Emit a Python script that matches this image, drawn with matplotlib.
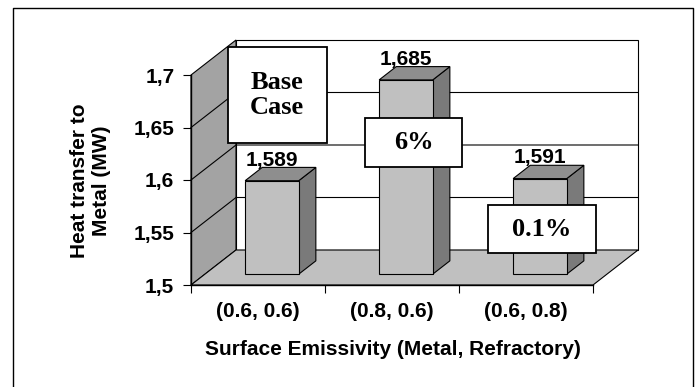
import matplotlib.pyplot as plt
from matplotlib.patches import Polygon, Rectangle
from matplotlib.lines import Line2D

# Heat transfer to metal for each emissivity pair
categories = ["(0.6, 0.6)", "(0.8, 0.6)", "(0.6, 0.8)"]
heat_mw = [1.589, 1.685, 1.591]
y_ticks = [1.5, 1.55, 1.6, 1.65, 1.7]
y_tick_labels = ["1,5", "1,55", "1,6", "1,65", "1,7"]

SANS = "Liberation Sans"
SERIF = "Liberation Serif"
FS = 15

# pseudo-3D depth of the plot box, in data units
DX = 45 / 134
DY = 0.2 * 35 / 210
# bars sit in the middle of the depth
F0, F1 = 0.31, 0.69
BAR_W = 0.40
YMIN, YMAX = 1.5, 1.7

fig = plt.figure(figsize=(6.99, 3.87), dpi=100)
ax = fig.add_axes([191 / 699, 1 - 285 / 387, 402 / 699, 210 / 387])
ax.set_xlim(-0.5, len(categories) - 0.5)
ax.set_ylim(YMIN, YMAX)
ax.patch.set_visible(False)
xl, xr = -0.5, len(categories) - 0.5

# outer chart frame (open at the bottom edge)
fig.add_artist(Line2D([13 / 699, 13 / 699, 693 / 699, 693 / 699],
                      [0, 1 - 8 / 387, 1 - 8 / 387, 0],
                      transform=fig.transFigure, color="black", lw=1.0))

lw = 0.8
# back wall
ax.add_patch(Polygon([(xl + DX, YMIN + DY), (xr + DX, YMIN + DY),
                      (xr + DX, YMAX + DY), (xl + DX, YMAX + DY)],
                     closed=True, facecolor="white", edgecolor="black",
                     lw=lw, clip_on=False, zorder=1))
# left side wall
ax.add_patch(Polygon([(xl, YMIN), (xl + DX, YMIN + DY),
                      (xl + DX, YMAX + DY), (xl, YMAX)],
                     closed=True, facecolor="#a3a3a3", edgecolor="black",
                     lw=lw, clip_on=False, zorder=1))
# floor
ax.add_patch(Polygon([(xl, YMIN), (xr, YMIN), (xr + DX, YMIN + DY),
                      (xl + DX, YMIN + DY)],
                     closed=True, facecolor="#c0c0c0", edgecolor="black",
                     lw=lw, clip_on=False, zorder=1))

# gridlines along the back wall and the side wall
for v in y_ticks[1:-1]:
    ax.plot([xl, xl + DX, xr + DX], [v, v + DY, v + DY],
            color="black", lw=lw, clip_on=False, zorder=2)

# bars
for i, v in enumerate(heat_mw):
    x0 = i - BAR_W / 2 + F0 * DX
    x1 = i + BAR_W / 2 + F0 * DX
    yb = YMIN + F0 * DY
    yt = v + F0 * DY
    ddx = (F1 - F0) * DX
    ddy = (F1 - F0) * DY
    ax.add_patch(Polygon([(x1, yb), (x1 + ddx, yb + ddy), (x1 + ddx, yt + ddy), (x1, yt)],
                         closed=True, facecolor="#7a7a7a", edgecolor="black",
                         lw=lw, clip_on=False, zorder=3))
    ax.add_patch(Polygon([(x0, yt), (x0 + ddx, yt + ddy), (x1 + ddx, yt + ddy), (x1, yt)],
                         closed=True, facecolor="#8e8e8e", edgecolor="black",
                         lw=lw, clip_on=False, zorder=3))
    ax.add_patch(Rectangle((x0, yb), x1 - x0, yt - yb, facecolor="#c0c0c0",
                           edgecolor="black", lw=lw, clip_on=False, zorder=3))
    ax.text((x0 + x1) / 2, yt + ddy - 0.002, f"{v:.3f}".replace(".", ","),
            ha="center", va="bottom", fontsize=FS, fontweight="bold",
            family=SANS, zorder=4)

# change relative to the base case
base = heat_mw[0]
notes = ["Base\nCase"] + [f"{(v / base - 1) * 100:.1g}%" if v / base - 1 < 0.01
                          else f"{(v / base - 1) * 100:.0f}%" for v in heat_mw[1:]]
note_boxes = [(0.142, 1.681, 0.739, 0.0914),
              (1.160, 1.6357, 0.724, 0.0467),
              (2.119, 1.5533, 0.806, 0.0457)]
for text, (cx, cy, w, h) in zip(notes, note_boxes):
    ax.add_patch(Rectangle((cx - w / 2, cy - h / 2), w, h, facecolor="white",
                           edgecolor="black", lw=1.3, clip_on=False, zorder=5))
    ax.text(cx, cy, text, ha="center", va="center", fontsize=19,
            fontweight="bold", family=SERIF, linespacing=1.15, zorder=6)

# axes and ticks
for side in ["top", "right"]:
    ax.spines[side].set_visible(False)
for side in ["left", "bottom"]:
    ax.spines[side].set_linewidth(1.0)
    ax.spines[side].set_zorder(4)
ax.set_yticks(y_ticks)
ax.set_yticklabels(y_tick_labels, fontsize=FS, fontweight="bold", family=SANS)
ax.tick_params(axis="y", length=6, width=0.8, pad=6)
ax.set_xticks(range(len(categories)))
ax.set_xticklabels(categories, fontsize=FS, fontweight="bold", family=SANS)
ax.set_xticks([i - 0.5 for i in range(len(categories) + 1)], minor=True)
ax.tick_params(axis="x", which="major", length=0, pad=12)
ax.tick_params(axis="x", which="minor", length=6, width=0.8)

ax.text(-0.251, 0.495, "Heat transfer to\nMetal (MW)", transform=ax.transAxes,
        rotation=90, ha="center", va="center", multialignment="center",
        fontsize=FS, fontweight="bold", family=SANS, linespacing=1.2)
ax.text(0.502, -0.305, "Surface Emissivity (Metal, Refractory)",
        transform=ax.transAxes, ha="center", va="center",
        fontsize=FS, fontweight="bold", family=SANS)

fig.savefig("out.png", dpi=100)
plt.close(fig)
